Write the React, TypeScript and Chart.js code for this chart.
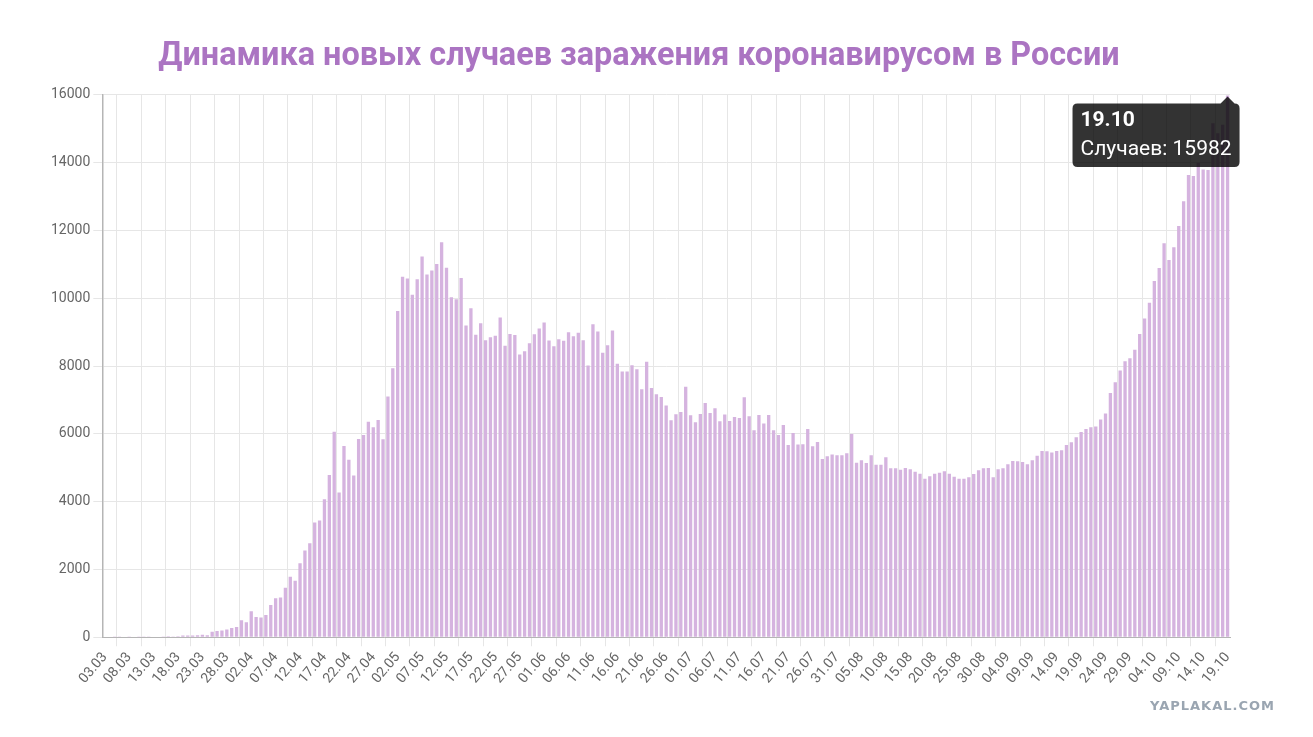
import React, { useEffect, useRef } from "react";
import { Chart, registerables } from "chart.js";

Chart.register(...registerables);

const TITLE = "Динамика новых случаев заражения коронавирусом в России";
const SERIES_LABEL = "Случаев";

// month codes and first day of each month shown on the chart
const MONTHS = ["03", "04", "05", "06", "07", "08", "09", "10"];
const FIRST_DAYS = [3, 1, 1, 1, 1, 1, 1, 1];

// daily new cases, per month
const march = [0, 0, 1, 9, 0, 3, 0, 3, 8, 6, 17, 14, 4, 30, 21, 33, 52, 54, 53, 61, 71, 57, 163, 182, 196, 228, 270, 302, 501];
const april = [440, 771, 601, 582, 658, 954, 1154, 1175, 1459, 1786, 1667, 2186, 2558, 2774, 3388, 3448, 4070, 4785, 6060, 4268, 5642, 5236, 4774, 5849, 5966, 6361, 6198, 6411, 5841, 7099];
const may = [7933, 9623, 10633, 10581, 10102, 10559, 11231, 10699, 10817, 11012, 11656, 10899, 10028, 9974, 10598, 9200, 9709, 8926, 9263, 8764, 8849, 8894, 9434, 8599, 8946, 8915, 8338, 8440, 8676, 8942, 9110];
const june = [9287, 8756, 8587, 8794, 8744, 9001, 8880, 8985, 8765, 8017, 9237, 9021, 8390, 8617, 9051, 8065, 7840, 7840, 8026, 7908, 7317, 8124, 7356, 7169, 7090, 6835, 6401, 6579, 6647, 7390];
const july = [6549, 6342, 6588, 6912, 6617, 6756, 6372, 6569, 6381, 6499, 6469, 7081, 6519, 6106, 6558, 6304, 6558, 6106, 5967, 6263, 5672, 6026, 5690, 5692, 6144, 5633, 5761, 5258, 5337, 5388, 5367];
const august = [5367, 5427, 5997, 5151, 5220, 5141, 5367, 5092, 5092, 5308, 4983, 4983, 4945, 4993, 4954, 4885, 4826, 4679, 4747, 4826, 4856, 4895, 4826, 4738, 4679, 4679, 4718, 4816, 4924, 4983, 4993];
const september = [4718, 4954, 4983, 5101, 5200, 5190, 5170, 5102, 5220, 5358, 5495, 5486, 5447, 5495, 5515, 5672, 5751, 5899, 6056, 6145, 6195, 6215, 6421, 6598, 7208, 7524, 7869, 8144, 8232, 8481];
const october = [8945, 9405, 9866, 10507, 10891, 11621, 11128, 11503, 12132, 12862, 13639, 13609, 14000, 13796, 13786, 15166, 14871, 15116, 15982];

const monthSeries = [march, april, may, june, july, august, september, october];

const labels: string[] = [];
const values: number[] = [];
monthSeries.forEach((arr, m) => {
  arr.forEach((v, i) => {
    const day = FIRST_DAYS[m] + i;
    labels.push(String(day).padStart(2, "0") + "." + MONTHS[m]);
    values.push(v);
  });
});

const Y_MAX = 16000;
const Y_STEP = 2000;
const LABEL_EVERY = 5;

const BAR_COLOR = "#d5b3df";
const TITLE_COLOR = "#ab74c2";

export default function App() {
  const ref = useRef<HTMLCanvasElement | null>(null);

  useEffect(() => {
    if (!ref.current) return;
    const chart = new Chart(ref.current, {
      type: "bar",
      data: {
        labels,
        datasets: [
          {
            label: SERIES_LABEL,
            data: values,
            backgroundColor: BAR_COLOR,
            hoverBackgroundColor: BAR_COLOR,
            borderWidth: 0,
            categoryPercentage: 1,
            barPercentage: 0.68,
          },
        ],
      },
      options: {
        animation: false,
        responsive: true,
        maintainAspectRatio: false,
        layout: { padding: { left: 48, right: 83, top: 0, bottom: 47 } },
        scales: {
          x: {
            grid: { color: "#e6e6e6", tickLength: 9 },
            border: { color: "#b5b5b5", width: 1 },
            ticks: {
              autoSkip: false,
              minRotation: 50,
              maxRotation: 50,
              color: "#666",
              font: { family: "Roboto", size: 14 },
              callback: function (this: any, value: any, index: number) {
                return index % LABEL_EVERY === 0 ? this.getLabelForValue(value) : null;
              },
            },
          },
          y: {
            min: 0,
            max: Y_MAX,
            grid: { color: "#e6e6e6", tickLength: 9 },
            border: { color: "#b5b5b5", width: 1.5 },
            ticks: {
              stepSize: Y_STEP,
              color: "#666",
              font: { family: "Roboto", size: 14 },
              callback: (v: any) => String(v),
            },
          },
        },
        plugins: {
          legend: { display: false },
          title: {
            display: true,
            text: TITLE,
            color: TITLE_COLOR,
            font: { family: "Roboto", size: 32.4, weight: "bold" },
            padding: { top: 37, bottom: 19 },
          },
          tooltip: {
            enabled: true,
            displayColors: false,
            backgroundColor: "rgba(0,0,0,0.8)",
            titleColor: "#fff",
            bodyColor: "#fff",
            titleFont: { family: "Roboto", size: 21, weight: "bold" },
            bodyFont: { family: "Roboto", size: 21 },
            titleMarginBottom: 3,
            padding: { top: 5, bottom: 5, left: 8, right: 8 },
            caretSize: 7,
            caretPadding: 1,
            cornerRadius: 5,
            xAlign: "right",
            yAlign: "top",
            callbacks: {
              label: (ctx: any) => SERIES_LABEL + ": " + ctx.parsed.y,
            },
          },
        },
      },
    } as any);

    const last = values.length - 1;
    chart.tooltip?.setActiveElements([{ datasetIndex: 0, index: last }], { x: 0, y: 0 });
    chart.update();

    return () => chart.destroy();
  }, []);

  return (
    <div style={{ position: "absolute", left: 0, top: 0, width: 1313, height: 737, background: "#fff" }}>
      <canvas ref={ref} />
      <div
        style={{
          position: "absolute",
          left: 1150,
          top: 698,
          fontFamily: "DejaVu Sans",
          fontWeight: "bold",
          fontSize: 13,
          letterSpacing: 1,
          color: "#9aa5b1",
        }}
      >
        YAPLAKAL.COM
      </div>
    </div>
  );
}
